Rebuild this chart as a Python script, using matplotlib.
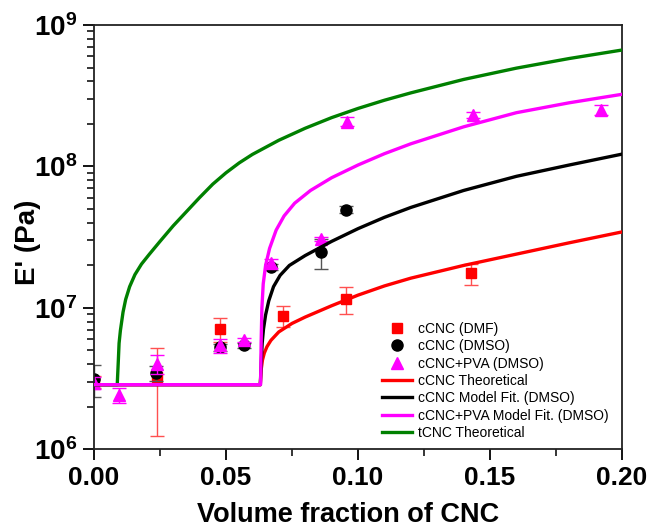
import numpy as np
import matplotlib
matplotlib.use("Agg")
import matplotlib.pyplot as plt

plt.rcParams['font.family'] = ['Liberation Sans', 'DejaVu Sans']
plt.rcParams['mathtext.fontset'] = 'custom'
plt.rcParams['mathtext.bf'] = 'Liberation Sans:bold'
plt.rcParams['mathtext.rm'] = 'Liberation Sans:bold'

# ---- measured data ----
dmf_x = [0.0, 0.0237, 0.0477, 0.0715, 0.0955, 0.1427]
dmf_y = [3.0e6, 3.24e6, 7.13e6, 8.8e6, 1.16e7, 1.75e7]
dmf_err = [0.3e6, 2.0e6, 1.4e6, 1.5e6, 2.5e6, 3.0e6]

dmso_x = [0.0, 0.0235, 0.0477, 0.0569, 0.0670, 0.0859, 0.0955]
dmso_y = [3.15e6, 3.46e6, 5.29e6, 5.44e6, 1.95e7, 2.49e7, 4.96e7]
dmso_err = [0.8e6, 0.4e6, 0.3e6, 0.2e6, 1.0e6, 6.0e6, 3.0e6]

pva_x = [0.0, 0.0095, 0.0237, 0.0477, 0.0569, 0.0670, 0.0859, 0.0957, 0.1437, 0.1919]
pva_y = [2.95e6, 2.41e6, 4.03e6, 5.43e6, 5.9e6, 2.06e7, 3.09e7, 2.07e8, 2.31e8, 2.5e8]
pva_err = [0.3e6, 0.3e6, 0.65e6, 0.6e6, 0.2e6, 1.5e6, 1.0e6, 1.5e7, 1.0e7, 2.0e7]

# model curves, log10(E')
red_x = [0.0, 0.0630, 0.0633, 0.0638, 0.0645, 0.0655, 0.0670, 0.0700, 0.0750, 0.0800,
         0.0900, 0.1000, 0.1100, 0.1200, 0.1400, 0.1600, 0.1800, 0.2000]
red_lg = [6.457, 6.457, 6.56, 6.63, 6.68, 6.725, 6.77, 6.83, 6.89, 6.935,
          7.015, 7.09, 7.155, 7.21, 7.30, 7.38, 7.46, 7.537]

blk_x = [0.0, 0.0630, 0.0633, 0.0637, 0.0642, 0.0650, 0.0662, 0.0680, 0.0705, 0.0740,
         0.0800, 0.0900, 0.1000, 0.1100, 0.1200, 0.1400, 0.1600, 0.1800, 0.2000]
blk_lg = [6.457, 6.457, 6.60, 6.75, 6.85, 6.95, 7.05, 7.15, 7.23, 7.30,
          7.37, 7.47, 7.56, 7.64, 7.71, 7.83, 7.93, 8.01, 8.087]

mag_x = [0.0, 0.0631, 0.0633, 0.0636, 0.0641, 0.0650, 0.0665, 0.0690, 0.0720, 0.0760,
         0.0820, 0.0900, 0.1000, 0.1100, 0.1200, 0.1400, 0.1600, 0.1800, 0.2000]
mag_lg = [6.457, 6.457, 6.75, 7.00, 7.17, 7.30, 7.42, 7.55, 7.65, 7.74,
          7.83, 7.92, 8.01, 8.09, 8.16, 8.28, 8.38, 8.45, 8.51]

grn_x = [0.0, 0.0088, 0.0092, 0.0095, 0.0100, 0.0110, 0.0120, 0.0135, 0.0155, 0.0180,
         0.0210, 0.0250, 0.0300, 0.0350, 0.0400, 0.0450, 0.0500, 0.0550, 0.0600, 0.0700,
         0.0800, 0.0900, 0.1000, 0.1100, 0.1200, 0.1400, 0.1600, 0.1800, 0.2000]
grn_lg = [6.457, 6.457, 6.62, 6.75, 6.84, 6.97, 7.06, 7.15, 7.235, 7.31,
          7.38, 7.47, 7.58, 7.68, 7.78, 7.875, 7.955, 8.025, 8.085, 8.185,
          8.27, 8.345, 8.41, 8.468, 8.52, 8.615, 8.695, 8.763, 8.823]

labels = ['cCNC (DMF)', 'cCNC (DMSO)', 'cCNC+PVA (DMSO)', 'cCNC Theoretical',
          'cCNC Model Fit. (DMSO)', 'cCNC+PVA Model Fit. (DMSO)', 'tCNC Theoretical']

fig = plt.figure(figsize=(6.47, 5.30), dpi=100)
ax = fig.add_axes([94/647, 1-449.3/530, (622-94)/647, (449.3-25)/530])

lw = 2.4
h1 = ax.errorbar(dmf_x, dmf_y, yerr=dmf_err, fmt='s', color='#FF0000', ms=7,
                 ecolor='#FF5050', elinewidth=1, capsize=5, capthick=1, zorder=2)
h2 = ax.errorbar(dmso_x, dmso_y, yerr=dmso_err, fmt='o', color='black', ms=8,
                 ecolor='#555555', elinewidth=1, capsize=5, capthick=1, zorder=2.1)
h3 = ax.errorbar(pva_x, pva_y, yerr=pva_err, fmt='^', color='#FF00FF', ms=9,
                 ecolor='#FF00FF', elinewidth=1, capsize=5, capthick=1, zorder=2.2)
l1, = ax.plot(red_x, np.power(10, red_lg), color='#FF0000', lw=lw, zorder=3)
l2, = ax.plot(blk_x, np.power(10, blk_lg), color='black', lw=lw, zorder=3)
l4, = ax.plot(grn_x, np.power(10, grn_lg), color='#008000', lw=lw, zorder=3)
l3, = ax.plot(mag_x, np.power(10, mag_lg), color='#FF00FF', lw=lw, zorder=3.1)

ax.set_yscale('log')
ax.set_xlim(0, 0.20)
ax.set_ylim(1e6, 1e9)

ax.set_xticks([0, 0.05, 0.10, 0.15, 0.20])
ax.set_xticklabels(['0.00', '0.05', '0.10', '0.15', '0.20'])
ax.set_xticks([0.025, 0.075, 0.125, 0.175], minor=True)
ax.set_yticks([1e6, 1e7, 1e8, 1e9])
ax.set_yticklabels([r'$\mathbf{10^{6}}$', r'$\mathbf{10^{7}}$', r'$\mathbf{10^{8}}$', r'$\mathbf{10^{9}}$'])
ax.yaxis.set_minor_locator(matplotlib.ticker.LogLocator(base=10, subs=np.arange(2, 10)))
ax.yaxis.set_minor_formatter(matplotlib.ticker.NullFormatter())

ax.tick_params(which='major', direction='out', length=8, width=1.3, labelsize=19, pad=4)
ax.tick_params(axis='y', which='major', labelsize=20)
ax.tick_params(which='minor', direction='out', length=5, width=1.1)
for lab in ax.get_xticklabels():
    lab.set_fontweight('bold')
for sp in ax.spines.values():
    sp.set_linewidth(1.3)
    sp.set_color('#222222')

ax.set_xlabel('Volume fraction of CNC', fontsize=19.5, fontweight='bold')
ax.set_ylabel("E' (Pa)", fontsize=20, fontweight='bold')
ax.xaxis.set_label_coords((348.5-94)/528, (449.3-515)/424.3)
ax.xaxis.label.set_verticalalignment('center')
ax.yaxis.set_label_coords((28-94)/528, (449.3-242)/424.3)
ax.yaxis.label.set_verticalalignment('center')

leg = ax.legend([h1[0], h2[0], h3[0], l1, l2, l3, l4], labels,
                loc='upper left', bbox_to_anchor=(381.7/647, 1-322/530),
                bbox_transform=fig.transFigure, frameon=False, fontsize=10,
                handlelength=2.2, handletextpad=0.4, labelspacing=0.24,
                borderpad=0, borderaxespad=0)

fig.savefig('out.png', dpi=100)
